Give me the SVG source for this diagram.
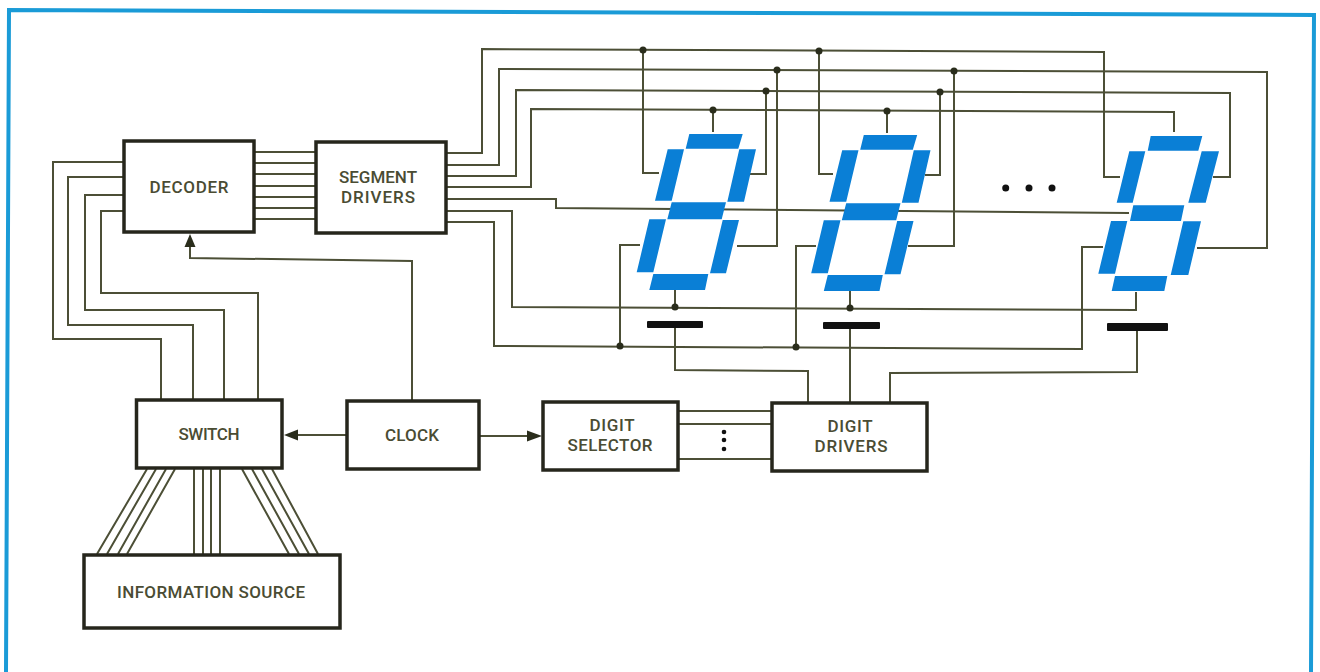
<svg xmlns="http://www.w3.org/2000/svg" width="1320" height="672" viewBox="0 0 1320 672">
<style>
.frame{fill:none;stroke:#1a9bd7;stroke-width:4}
.box{fill:#fff;stroke:#26261c;stroke-width:3.500}
.w{fill:none;stroke:#4c4f36;stroke-width:2}
.d{fill:#2a2d1c}
.s{fill:#0a7fd6}
.bar{fill:#111}
text{font-family:Roboto,"Liberation Sans",Arial,sans-serif;font-size:17px;font-weight:500;fill:#4a4c33;text-anchor:middle}
</style>
<rect width="1320" height="672" fill="#fff"/>
<path class="frame" d="M6 672L9 10L1314 15L1311 672"/>
<g id="connectors">
<path class="w" d="M254 152H316M254 163H316M254 174H316M254 186H316M254 197H316M254 208H316M254 219H316"/>
<path class="w" d="M124 162H53V339H161V399M124 177H68V325H193V399M124 195H85V310H224V399M124 211H101V293H258V399"/>
<path class="w" d="M412 401V261L190 258V245"/>
<path class="d" d="M190 234L195.500 247H184.500Z"/>
<path class="w" d="M347 435H296"/>
<path class="d" d="M284 435L298 429.500V440.500Z"/>
<path class="w" d="M479 436H530"/>
<path class="d" d="M542 436L527 430.500V441.500Z"/>
<path class="w" d="M678 411H772M678 424H772M678 459H772"/>
<path class="w" d="M147 469L97 554M156 469L107 554M166 469L118 554M175 469L127 554"/>
<path class="w" d="M194 469V554M203 469V554M211 469V554M220 469V554"/>
<path class="w" d="M242 469L289 554M252 469L299 554M262 469L309 554M272 469L318 554"/>
<path class="w" d="M446 153H482V49L1104 52V177H1120"/>
<path class="w" d="M446 165H499V69L1267 72V248H1197"/>
<path class="w" d="M446 176H516V90L1230 93V177H1213"/>
<path class="w" d="M446 187H531V109L1174 112V132"/>
<path class="w" d="M446 199H556V208L1129 213"/>
<path class="w" d="M446 211H512V307L1136 310V292"/>
<path class="w" d="M446 222H494V346L1082 349V247H1103"/>
<path class="w" d="M643 50V173H659M766 91V174H750M777 70V246H737M713 110V132M620 346V245H640M675 290V307"/>
<path class="w" d="M819 51V174H833M940 92V175H925M954 71V246H908M887 111V133M796 347V246H816M850 290V308"/>
<path class="w" d="M675 326V370L808 371V403M850 328V403M1137 328V372L890 373V403"/>
<g class="d">
<circle cx="643" cy="50" r="3.500"/><circle cx="777" cy="70" r="3.500"/><circle cx="766" cy="91" r="3.500"/><circle cx="713" cy="110" r="3.500"/>
<circle cx="819" cy="51" r="3.500"/><circle cx="954" cy="71" r="3.500"/><circle cx="940" cy="92" r="3.500"/><circle cx="887" cy="111" r="3.500"/>
<circle cx="675" cy="307" r="3.500"/><circle cx="850" cy="308" r="3.500"/><circle cx="620" cy="346" r="3.500"/><circle cx="796" cy="347" r="3.500"/>
</g>
</g>
<g id="digit-1">
<path class="s" d="M689.300 134H742.700L738.300 148.700H685.700ZM667.700 149.300H684L671.700 200.700H655ZM739.300 149.300H756L744 201.700H727.300ZM671.700 202.300H726L721.700 219.300H667.300ZM649.300 219.300H666L653.300 272.300H636.700ZM722.700 220H739L726 273.300H710ZM653.300 274H708.300L705 290H649.300Z"/>
<rect class="bar" x="647" y="321" width="56" height="7" rx="1"/>
</g>
<g id="digit-2">
<path class="s" transform="translate(174.500 1)" d="M689.300 134H742.700L738.300 148.700H685.700ZM667.700 149.300H684L671.700 200.700H655ZM739.300 149.300H756L744 201.700H727.300ZM671.700 202.300H726L721.700 219.300H667.300ZM649.300 219.300H666L653.300 272.300H636.700ZM722.700 220H739L726 273.300H710ZM653.300 274H708.300L705 290H649.300Z"/>
<rect class="bar" x="823" y="322" width="57" height="7" rx="1"/>
</g>
<g id="digit-3">
<path class="s" d="M1150.700 136H1202.300L1198.300 150.700H1147.700ZM1129.300 151.300H1145.300L1132.700 202.700H1116.700ZM1201.700 151.300H1219L1205.700 202.700H1188.300ZM1133.300 205.300H1184.300L1181 221H1130ZM1111 221H1127.300L1115 273.700H1098.300ZM1183.300 221.300H1201L1188.300 275H1170.700ZM1115 276H1167.300L1164.300 291H1111.700Z"/>
<rect class="bar" x="1107" y="323" width="61" height="8" rx="1"/>
</g>
<g id="ellipsis" fill="#111">
<circle cx="1005.700" cy="188" r="3.500"/><circle cx="1029" cy="188" r="3.500"/><circle cx="1052" cy="188" r="3.500"/>
<circle cx="724" cy="432" r="2.300"/><circle cx="724" cy="440" r="2.300"/><circle cx="724" cy="449" r="2.300"/>
</g>
<g id="decoder"><rect class="box" x="124" y="141" width="130" height="91"/><text x="189" y="193" textLength="79">DECODER</text></g>
<g id="segment-drivers"><rect class="box" x="316" y="142" width="130" height="91"/><text x="378" y="183" textLength="78">SEGMENT</text><text x="378" y="203" textLength="74">DRIVERS</text></g>
<g id="switch"><rect class="box" x="136.500" y="400" width="145.500" height="68"/><text x="209" y="439.500" textLength="61">SWITCH</text></g>
<g id="clock"><rect class="box" x="347" y="401" width="132" height="68"/><text x="412" y="440.500" textLength="54">CLOCK</text></g>
<g id="digit-selector"><rect class="box" x="543" y="402" width="135" height="68"/><text x="612" y="431" textLength="45">DIGIT</text><text x="610" y="450.500" textLength="85">SELECTOR</text></g>
<g id="digit-drivers"><rect class="box" x="772" y="403" width="155" height="68"/><text x="850" y="432" textLength="45">DIGIT</text><text x="851" y="451.500" textLength="73">DRIVERS</text></g>
<g id="information-source"><rect class="box" x="84" y="555" width="256" height="73"/><text x="211" y="597.500" textLength="188">INFORMATION SOURCE</text></g>
</svg>
